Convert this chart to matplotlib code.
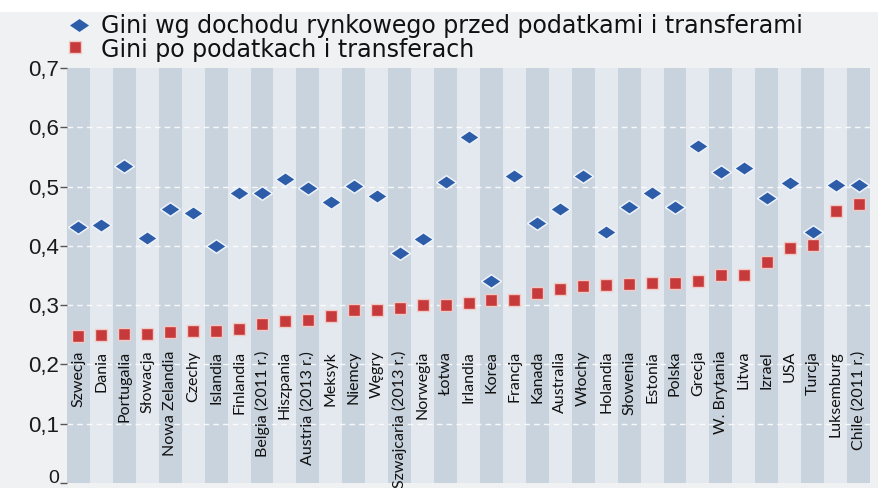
import matplotlib
matplotlib.use("Agg")
import matplotlib.pyplot as plt
from matplotlib.lines import Line2D
from matplotlib.patches import Rectangle, Wedge
import numpy as np

countries = [
    "Szwecja", "Dania", "Portugalia", "Słowacja", "Nowa Zelandia", "Czechy",
    "Islandia", "Finlandia", "Belgia (2011 r.)", "Hiszpania", "Austria (2013 r.)",
    "Meksyk", "Niemcy", "Węgry", "Szwajcaria (2013 r.)", "Norwegia", "Łotwa",
    "Irlandia", "Korea", "Francja", "Kanada", "Australia", "Włochy", "Holandia",
    "Słowenia", "Estonia", "Polska", "Grecja", "W. Brytania", "Litwa", "Izrael",
    "USA", "Turcja", "Luksemburg", "Chile (2011 r.)",
]

# Gini of market income, before taxes and transfers
gini_market = [
    0.431, 0.436, 0.535, 0.414, 0.463, 0.456, 0.400, 0.489, 0.489, 0.512,
    0.497, 0.474, 0.501, 0.484, 0.388, 0.411, 0.507, 0.583, 0.341, 0.518,
    0.439, 0.463, 0.517, 0.424, 0.466, 0.490, 0.465, 0.569, 0.524, 0.532,
    0.481, 0.506, 0.424, 0.503, 0.503,
]

# Gini of disposable income, after taxes and transfers
gini_net = [
    0.248, 0.249, 0.251, 0.251, 0.255, 0.256, 0.256, 0.260, 0.269, 0.274,
    0.275, 0.282, 0.291, 0.291, 0.296, 0.300, 0.301, 0.304, 0.309, 0.309,
    0.321, 0.327, 0.332, 0.334, 0.336, 0.338, 0.338, 0.341, 0.351, 0.351,
    0.372, 0.397, 0.401, 0.458, 0.470,
]

yticks = [0, 0.1, 0.2, 0.3, 0.4, 0.5, 0.6, 0.7]
ytick_labels = ["0", "0,1", "0,2", "0,3", "0,4", "0,5", "0,6", "0,7"]

legend_labels = [
    "Gini wg dochodu rynkowego przed podatkami i transferami",
    "Gini po podatkach i transferach",
]

BLUE = "#2d5da8"
RED = "#c73a3b"
STRIPE_DARK = "#c9d3de"
STRIPE_LIGHT = "#e4e9ef"
PAGE = "#f0f1f3"

# a diamond that is wider than it is tall
WIDE_DIAMOND = [(-1, 0), (0, 0.68), (1, 0), (0, -0.68), (-1, 0)]

W, H = 879, 488
fig = plt.figure(figsize=(W / 100, H / 100), dpi=100, facecolor="white")

# light page behind everything except a thin white strip on top
fig.add_artist(Rectangle((0, 0), 1, 1 - 12 / H, transform=fig.transFigure,
                         facecolor=PAGE, edgecolor="none", zorder=-10))

ax = fig.add_axes([67 / W, 1 - 483 / H, (870 - 67) / W, (483 - 68) / H])
ax.set_facecolor("none")

n = len(countries)
x = np.arange(n)
for i in range(n):
    ax.axvspan(i - 0.5, i + 0.5, color=STRIPE_DARK if i % 2 == 0 else STRIPE_LIGHT,
               lw=0, zorder=0)

# faint white swoosh across the upper part of the panel
ax.add_patch(Wedge((13.5, 0.95), 14.5, 200, 340, width=2.2,
                   transform=ax.transData, facecolor="white", alpha=0.22,
                   edgecolor="none", zorder=0.5, clip_on=True))

for yv in yticks[1:-1]:
    ax.axhline(yv, color="white", lw=1.0, dashes=(4, 3), alpha=0.85, zorder=1)

ax.plot(x, gini_market, ls="none", marker=WIDE_DIAMOND, ms=14.5, color=BLUE,
        mec="#eef3fb", mew=1.1, zorder=4)
ax.plot(x, gini_net, ls="none", marker="s", ms=8.8, color=RED,
        mec="#f3c9c6", mew=1.0, zorder=3)

ax.set_xlim(-0.5, n - 0.5)
ax.set_ylim(0, 0.7)
for s in ax.spines.values():
    s.set_visible(False)

ax.set_xticks([])
ax.set_yticks(yticks)
# the "0" label is placed by hand a touch higher so it stays on the canvas
ax.set_yticklabels([""] + ytick_labels[1:], fontsize=16, family="Liberation Sans",
                   color="#1a1a1a")
ax.tick_params(axis="y", length=5, width=1, color="#555555", pad=1)
ax.annotate(ytick_labels[0], xy=(0, yticks[0]), xycoords=("axes fraction", "data"),
            xytext=(-6, 3.5), textcoords="offset points", ha="right", va="center",
            fontsize=14, family="Liberation Sans", color="#1a1a1a",
            annotation_clip=False)

for i, name in enumerate(countries):
    ax.text(i, 0.223, name, rotation=90, rotation_mode="anchor", ha="right",
            va="center", fontsize=11.5, family="Lato", color="#111111", zorder=5)

# legend drawn by hand at the top left
fig.add_artist(Line2D([79 / W], [1 - 25 / H], transform=fig.transFigure,
                      marker=WIDE_DIAMOND, ms=15.5, color=BLUE, mec="#eef3fb", mew=1))
fig.add_artist(Line2D([75 / W], [1 - 47 / H], transform=fig.transFigure, marker="s",
                      ms=8.5, color=RED, mec="#f3c9c6", mew=1))
fig.text(101 / W, 1 - 33.5 / H, legend_labels[0], fontsize=17.1, family="DejaVu Sans",
         color="#111111", va="baseline", ha="left")
fig.text(101 / W, 1 - 56.5 / H, legend_labels[1], fontsize=17.1, family="DejaVu Sans",
         color="#111111", va="baseline", ha="left")

fig.savefig("out.png", dpi=100, facecolor=fig.get_facecolor())
